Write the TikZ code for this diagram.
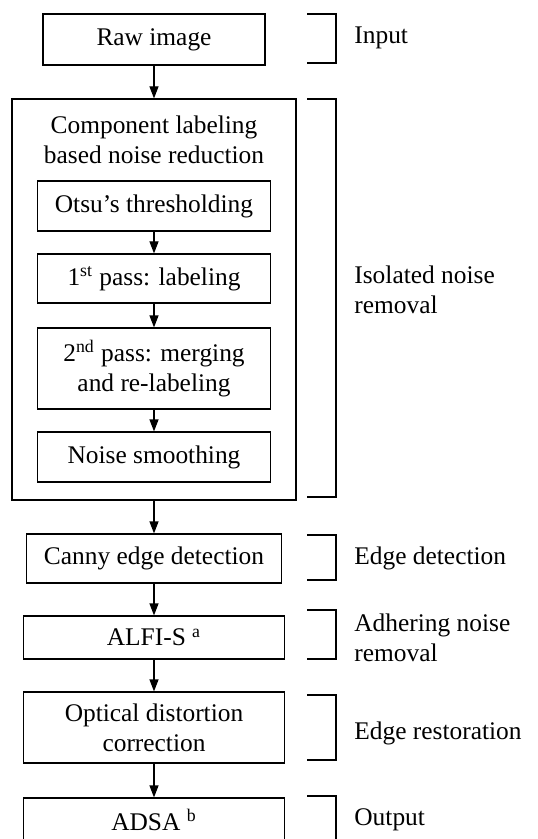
\documentclass[tikz,border=0pt]{standalone}
\usepackage{fontspec}
\setmainfont{Liberation Serif}
\usetikzlibrary{positioning,calc,arrows.meta}

\begin{document}
\begin{tikzpicture}[x=0.5pt, y=-0.5pt,
    every node/.style={font=\fontsize{12.7pt}{15pt}\selectfont, text=black},
    stage/.style={draw=black, line width=0.6pt, rectangle, align=center, inner sep=0pt},
    tag/.style={anchor=west, align=left, inner sep=0pt},
    flow/.style={line width=0.6pt, -{Triangle[length=6pt, width=4.5pt]}},
    brace/.style={line width=0.6pt}
    ]

        \useasboundingbox (0,0) rectangle (537,839);
        \clip (0,0) rectangle (537,839);

        %input
        \node[stage, minimum width=111pt, minimum height=25.5pt] (raw) at (154,39.5) {Raw image};

        %noise reduction block
        \node[stage, minimum width=142pt, minimum height=200.5pt] (CL) at (154,299.5) {};
        \node[align=center, inner sep=0pt] (CLtitle) at (154,140) {Component labeling\\based noise reduction};

        \node[stage, minimum width=116.5pt, minimum height=25pt] (otsu) at (154,206) {Otsu's thresholding};
        \node[stage, minimum width=116.5pt, minimum height=24.5pt] (pass1) at (154,278.5) {1\textsuperscript{st} pass: labeling};
        \node[stage, minimum width=116.5pt, minimum height=40.5pt] (pass2) at (154,368.5) {2\textsuperscript{nd} pass: merging\\and re-labeling};
        \node[stage, minimum width=116.5pt, minimum height=25pt] (smooth) at (154,457) {Noise smoothing};

        %edges
        \node[stage, minimum width=127.5pt, minimum height=24.5pt] (canny) at (154,558.5) {Canny edge detection};
        \node[stage, minimum width=130.5pt, minimum height=21.5pt] (alfi) at (154,637.5) {ALFI-S \textsuperscript{a}};
        \node[stage, minimum width=130.5pt, minimum height=35.5pt] (optic) at (154,727.5) {Optical distortion\\correction};

        %output (runs off the bottom)
        \node[stage, minimum width=130.5pt, minimum height=22pt] (adsa) at (154,820) {ADSA \textsuperscript{b}};

        \draw[flow] (raw) -- (CL);
        \draw[flow] (otsu) -- (pass1);
        \draw[flow] (pass1) -- (pass2);
        \draw[flow] (pass2) -- (smooth);
        \draw[flow] (CL) -- (canny);
        \draw[flow] (canny) -- (alfi);
        \draw[flow] (alfi) -- (optic);
        \draw[flow] (optic) -- (adsa);

        %brackets on the right
        \foreach \top/\bot in {14/63, 99/497, 535/580, 610/659, 695/760, 796/860}
            \draw[brace] (307,\top) -- (336,\top) -- (336,\bot) -- (307,\bot);

        \node[tag] (lin) at (354,38) {Input};
        \node[tag] (liso) at (354,290) {Isolated noise\\removal};
        \node[tag] (ledge) at (354,558) {Edge detection};
        \node[tag] (ladh) at (354,638) {Adhering noise\\removal};
        \node[tag] (lrest) at (354,733) {Edge restoration};
        \node[tag] (lout) at (354,820) {Output};

\end{tikzpicture}
\end{document}
